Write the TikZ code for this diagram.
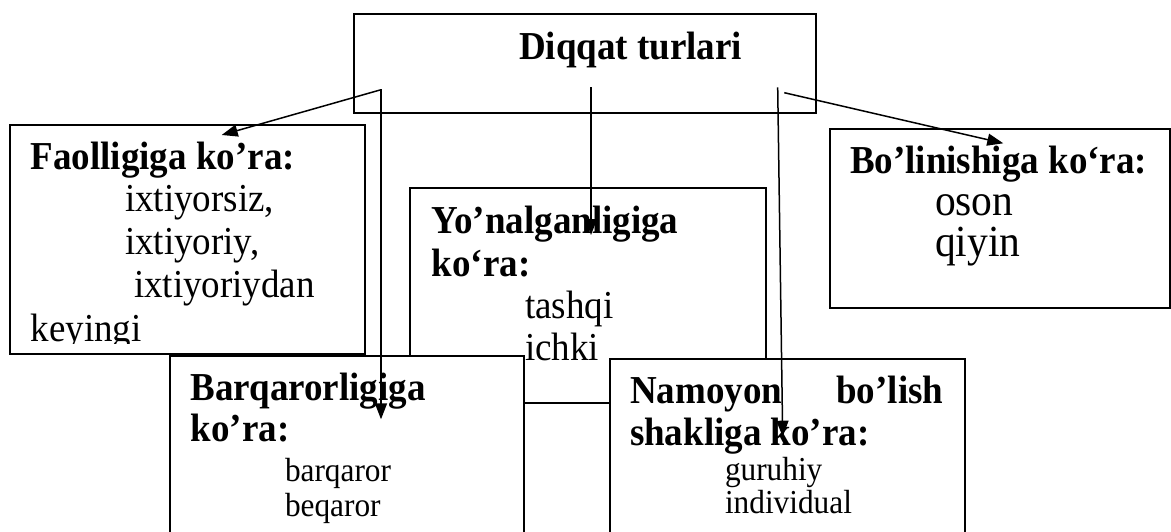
\documentclass[tikz,border=0pt]{standalone}
\usepackage{graphicx}
\usepackage{fontspec}
\setmainfont{Liberation Serif}
\usetikzlibrary{arrows.meta}
\newcommand\hdf{\bfseries\fontsize{37}{42}\selectfont}
\newcommand\itf{\fontsize{37}{42}\selectfont}
\newcommand\itsm{\fontsize{31.3}{36}\selectfont}
\newcommand\itlg{\fontsize{41.5}{48}\selectfont}
\newcommand\T[1]{\scalebox{1}[1.07]{#1}}
\tikzset{
  box/.style={draw, line width=1.8pt, fill=white, anchor=north west, inner sep=0pt},
  txt/.style={anchor=base west, inner sep=0pt, outer sep=0pt},
  hd/.style={txt, font=\hdf},
  it/.style={txt, font=\itf},
  itsmall/.style={txt, font=\itsm},
  itlarge/.style={txt, font=\itlg},
  arr/.style={line width=1.5pt, -{Triangle[length=16pt,width=12pt]}}
}
\begin{document}
\begin{tikzpicture}[x=1pt,y=-1pt]
\clip (0,0) rectangle (1171,531);
\fill[white] (0,0) rectangle (1171,531);
% Faolligiga
\node[box, minimum width=355pt, minimum height=228.7pt] (faol) at (9,124) {};
\begin{scope}
\clip (10,125) rectangle (363,343);
\node[hd] (faolh) at (30.7,169.3) {\T{Faolligiga ko’ra:}};
\node[it] (faol1) at (125,211.7) {\T{ixtiyorsiz,}};
\node[it] (faol2) at (125,254.5) {\T{ixtiyoriy,}};
\node[it] (faol3) at (134,297) {\T{ixtiyoriydan}};
\node[it] (faol4) at (30.7,341) {\T{keyingi}};
\end{scope}
% Bo'linishiga
\node[box, minimum width=340pt, minimum height=178.4pt] (bol) at (829.3,128.3) {};
\node[hd] (bolh) at (850,173.3) {\T{Bo’linishiga ko‘ra:}};
\node[itlarge] (bol1) at (935,215) {\T{oson}};
\node[itlarge] (bol2) at (935,256.7) {\T{qiyin}};
% Yo'nalganligiga
\node[box, minimum width=355.7pt, minimum height=214.4pt] (yon) at (409.3,187.3) {};
\node[hd] (yonh) at (431.7,233.3) {\T{Yo’nalganligiga}};
\node[hd] (yonh2) at (431.7,276) {\T{ko‘ra:}};
\node[it] (yon1) at (525,318.3) {\T{tashqi}};
\node[it] (yon2) at (525,360) {\T{ichki}};
% Barqarorligiga
\node[box, minimum width=354pt, minimum height=200pt] (barq) at (169.3,355) {};
\node[hd] (barqh) at (190.7,400) {\T{Barqarorligiga}};
\node[hd] (barqh2) at (190.7,441.7) {\T{ko’ra:}};
\node[itsmall] (barq1) at (285,481.7) {\T{barqaror}};
\node[itsmall] (barq2) at (285,516.7) {\T{beqaror}};
% Namoyon
\node[box, minimum width=354.7pt, minimum height=200pt] (nam) at (609.3,358.3) {};
\node[hd] (namh) at (630,403.3) {\T{Namoyon}};
\node[hd, anchor=base east] (namh2) at (943.3,403.3) {\T{bo’lish}};
\node[hd] (namh3) at (630,445) {\T{shakliga ko’ra:}};
\node[itsmall] (nam1) at (725,480) {\T{guruhiy}};
\node[itsmall] (nam2) at (725,513.3) {\T{individual}};
% Top
\node[box, minimum width=462.3pt, minimum height=98.4pt] (top) at (352.7,13.3) {};
\node[hd] (toph) at (519,59.3) {\T{Diqqat turlari}};
% arrow ends
\coordinate (s1) at (380,90);
\coordinate (e1) at (221.7,135);
\coordinate (s2) at (381,89.3);
\coordinate (e2) at (381,419.3);
\coordinate (s3) at (591,87.3);
\coordinate (e3) at (591,235);
\coordinate (s4) at (777.7,87.3);
\coordinate (e4) at (782.7,436.7);
\coordinate (s5) at (784.3,92.7);
\coordinate (e5) at (1003.3,143.3);
\draw[arr] (s1) -- (e1);
\draw[arr] (s2) -- (e2);
\draw[arr] (s3) -- (e3);
\draw[arr] (s4) -- (e4);
\draw[arr] (s5) -- (e5);
\end{tikzpicture}
\end{document}
